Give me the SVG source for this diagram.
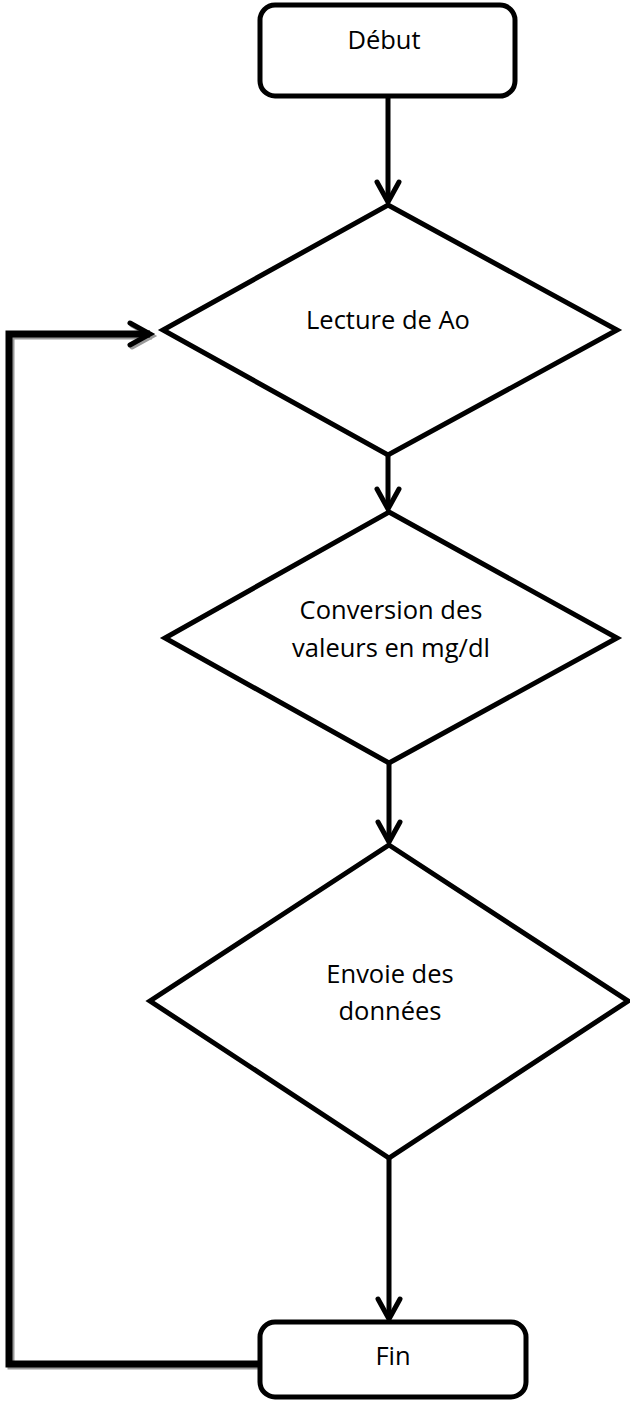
<svg xmlns="http://www.w3.org/2000/svg" width="630" height="1401" viewBox="0 0 630 1401">
<style>
.shape{fill:#fff;stroke:#000;stroke-width:5;stroke-linejoin:miter}
.box{fill:#fff;stroke:#000;stroke-width:5}
.lbl{font-family:"Open Sans","Noto Sans",sans-serif;font-size:25.5px;fill:#000;text-anchor:middle}
.conn{fill:none;stroke:#000;stroke-width:5}
.loop{fill:none;stroke:#000;stroke-width:7}
.shadow{fill:none;stroke:#9a9a9a;stroke-width:7}
</style>
<defs>
<marker id="arr" markerUnits="userSpaceOnUse" viewBox="-26 -16 30 32" markerWidth="30" markerHeight="32" refX="0" refY="0" orient="auto" overflow="visible">
<path d="M-20,-11 L0,0 L-20,11" fill="none" stroke="#000" stroke-width="5" stroke-linecap="round" stroke-linejoin="miter"/>
</marker>
<marker id="arrs" markerUnits="userSpaceOnUse" viewBox="-26 -16 30 32" markerWidth="30" markerHeight="32" refX="0" refY="0" orient="auto" overflow="visible">
<path d="M-20,-11 L0,0 L-20,11" fill="none" stroke="#9a9a9a" stroke-width="5" stroke-linecap="round"/>
</marker>
</defs>
<g id="connectors">
<path class="shadow" d="M260,1366 L11,1366 L11,336 L152,336" marker-end="url(#arrs)"/>
<path class="loop" d="M260,1364 L9,1364 L9,334 L150,334" marker-end="url(#arr)"/>
<line class="conn" x1="388" y1="98" x2="388" y2="202" marker-end="url(#arr)"/>
<line class="conn" x1="388" y1="455" x2="388" y2="509" marker-end="url(#arr)"/>
<line class="conn" x1="389" y1="763" x2="389" y2="842" marker-end="url(#arr)"/>
<line class="conn" x1="389" y1="1158" x2="389" y2="1319" marker-end="url(#arr)"/>
</g>
<g id="debut">
<rect class="box" x="260" y="5" width="255" height="91" rx="15"/>
<text class="lbl" x="384" y="49">Début</text>
</g>
<g id="lecture">
<polygon class="shape" points="388,205 617,330 388,455 163,330"/>
<text class="lbl" x="388" y="329">Lecture de Ao</text>
</g>
<g id="conversion">
<polygon class="shape" points="389,512 617,638 389,763 165,638"/>
<text class="lbl" x="391" y="619">Conversion des</text>
<text class="lbl" x="391" y="657">valeurs en mg/dl</text>
</g>
<g id="envoie">
<polygon class="shape" points="389,845 628,1001 389,1158 150,1001"/>
<text class="lbl" x="390" y="983">Envoie des</text>
<text class="lbl" x="390" y="1020">données</text>
</g>
<g id="fin">
<rect class="box" x="260" y="1322" width="266" height="75" rx="15"/>
<text class="lbl" x="393" y="1365">Fin</text>
</g>
</svg>
